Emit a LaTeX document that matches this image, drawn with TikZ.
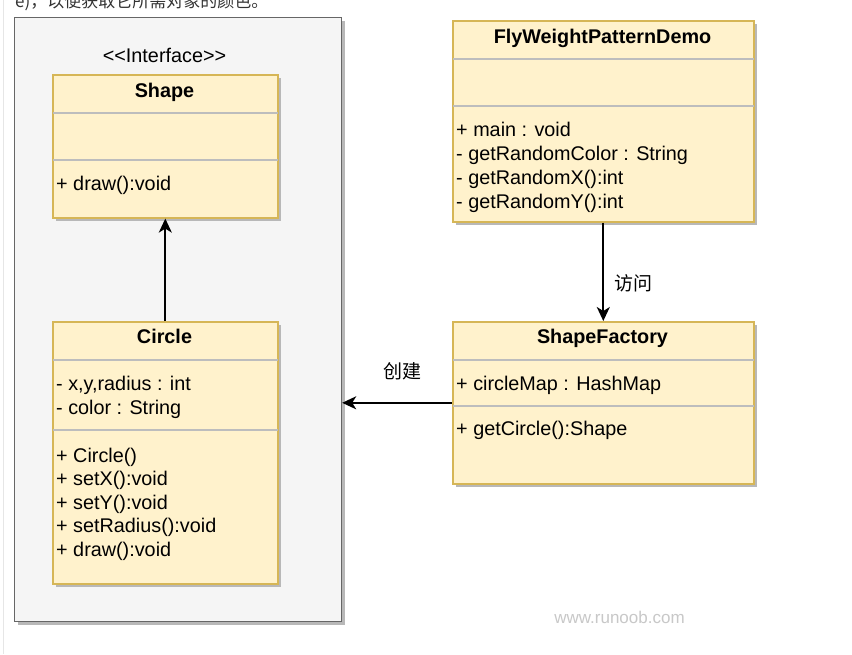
\documentclass[tikz,border=0pt]{standalone}
\usepackage{fontspec}
\setmainfont{Liberation Sans}
\newfontfamily\cjk{Noto Sans CJK SC}
\usetikzlibrary{arrows.meta,shadows}
\definecolor{boxfill}{HTML}{FFF2CC}
\definecolor{boxline}{HTML}{D6B656}
\definecolor{sepgray}{HTML}{BDBDBD}
\definecolor{contfill}{HTML}{F5F5F5}
\definecolor{contline}{HTML}{666666}
\definecolor{wmgray}{HTML}{C8C8C8}
\definecolor{topgray}{HTML}{333333}
\definecolor{edgegray}{HTML}{E6E6E6}
\begin{document}
\begin{tikzpicture}[x=1pt,y=-1pt,
  every node/.style={inner sep=0pt, font=\fontsize{19.8}{24}\selectfont},
  shadowed/.style={drop shadow={shadow xshift=3pt,shadow yshift=-3pt,fill=black!28,opacity=1}},
  umlbox/.style={rectangle, draw=boxline, line width=1.6pt, fill=boxfill, anchor=north west, shadowed},
  sepline/.style={draw=sepgray, line width=1.2pt, shorten <=0.9pt, shorten >=0.9pt},
  umltitle/.style={anchor=base, font=\fontsize{19.8}{24}\selectfont\bfseries},
  item/.style={anchor=base west},
  cjklabel/.style={font=\cjk\fontsize{19}{22}\selectfont},
  conn/.style={line width=1.8pt, -{Stealth[length=14pt,width=13pt,inset=4pt]}},
]
\useasboundingbox (0,0) rectangle (852,654);
\fill[white] (0,0) rectangle (852,654);
\draw[edgegray, line width=1pt] (3,0) -- (3,654);

% text cut off at the top edge, as in the reference
\begin{scope}
\clip (0,0) rectangle (852,654);
\node[anchor=base west, font=\cjk\fontsize{17}{20}\selectfont, text=topgray] (toptext) at (15,7) {e)，以便获取它所需对象的颜色。};
\end{scope}

% container
\node[rectangle, draw=contline, line width=1.2pt, fill=contfill, anchor=north west,
      minimum width=327pt, minimum height=604pt, shadowed] (container) at (14,17) {};

\node[anchor=base] (iface) at (164.5,62) {{<}{<}Interface{>}{>}};

% Shape
\node[umlbox, minimum width=225pt, minimum height=143pt] (shape) at (52,74) {};
\draw[sepline] (shape.west |- 0,113) -- (shape.east |- 0,113);
\draw[sepline] (shape.west |- 0,160) -- (shape.east |- 0,160);
\node[umltitle] (shapet) at (164.5,97) {Shape};
\node[item] (shapem1) at (56,190) {+ draw():void};

% Circle
\node[umlbox, minimum width=225pt, minimum height=262pt] (circle) at (52,321) {};
\draw[sepline] (circle.west |- 0,360) -- (circle.east |- 0,360);
\draw[sepline] (circle.west |- 0,430) -- (circle.east |- 0,430);
\node[umltitle] (circlet) at (164.5,343) {Circle};
\node[item] (circa1) at (56,390) {- x,y,radius : int};
\node[item] (circa2) at (56,414) {- color : String};
\node[item] (circm1) at (56,462) {+ Circle()};
\node[item] (circm2) at (56,485.6) {+ setX():void};
\node[item] (circm3) at (56,509.2) {+ setY():void};
\node[item] (circm4) at (56,532.8) {+ setRadius():void};
\node[item] (circm5) at (56,556.4) {+ draw():void};

% FlyWeightPatternDemo
\node[umlbox, minimum width=301pt, minimum height=201pt] (demo) at (452,20) {};
\draw[sepline] (demo.west |- 0,59) -- (demo.east |- 0,59);
\draw[sepline] (demo.west |- 0,106) -- (demo.east |- 0,106);
\node[umltitle] (demot) at (602.5,43) {FlyWeightPatternDemo};
\node[item] (demom1) at (456,136) {+ main : void};
\node[item] (demom2) at (456,160) {- getRandomColor : String};
\node[item] (demom3) at (456,184) {- getRandomX():int};
\node[item] (demom4) at (456,208) {- getRandomY():int};

% ShapeFactory
\node[umlbox, minimum width=301pt, minimum height=162pt] (factory) at (452,321) {};
\draw[sepline] (factory.west |- 0,360) -- (factory.east |- 0,360);
\draw[sepline] (factory.west |- 0,406) -- (factory.east |- 0,406);
\node[umltitle] (factoryt) at (602.5,343) {ShapeFactory};
\node[item] (factorya1) at (456,390) {+ circleMap : HashMap};
\node[item] (factorym1) at (456,435) {+ getCircle():Shape};

% connectors
\draw[conn] (circle.north) -- (shape.south);
\draw[conn] (demo.south) -- (factory.north);
\draw[conn] (factory.west) -- (factory.west -| container.east);

\node[cjklabel] (lblvisit) at (633,283) {访问};
\node[cjklabel] (lblcreate) at (402,371) {创建};

% watermark
\node[font=\fontsize{17}{20}\selectfont, text=wmgray] (wm) at (619.5,617) {www.runoob.com};
\end{tikzpicture}
\end{document}
